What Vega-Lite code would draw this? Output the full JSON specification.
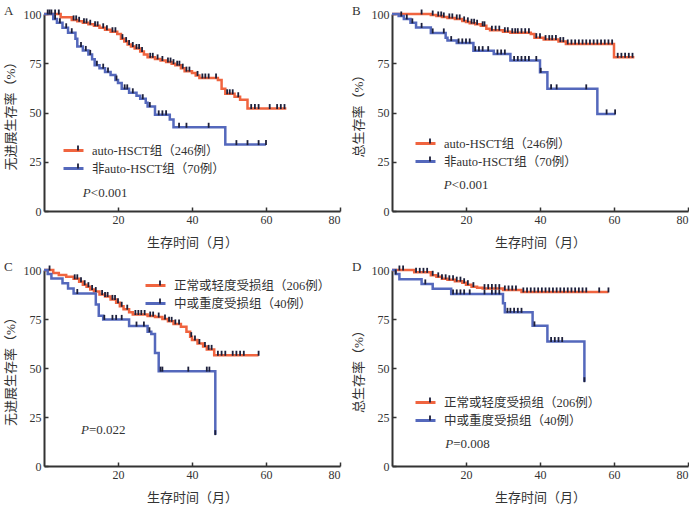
{
  "$schema": "https://vega.github.io/schema/vega-lite/v6.json",
  "padding": {"left": 4, "top": 4, "right": 0, "bottom": 0},
  "background": "white",
  "config": {
    "view": {"stroke": null},
    "font": "Liberation Serif, Noto Sans CJK SC",
    "axis": {
      "grid": false,
      "domainColor": "#333333",
      "domainWidth": 2,
      "tickColor": "#333333",
      "tickWidth": 1.5,
      "tickSize": -4,
      "labelFont": "Liberation Serif",
      "labelFontSize": 12,
      "labelColor": "#333333",
      "labelPadding": 7,
      "titleFont": "Liberation Serif, Noto Sans CJK SC",
      "titleFontSize": 13,
      "titleFontWeight": "normal",
      "titleColor": "#333333"
    },
    "axisX": {"titlePadding": 11},
    "axisY": {"titlePadding": 6},
    "legend": {
      "orient": "none",
      "title": null,
      "labelFont": "Liberation Serif, Noto Sans CJK SC",
      "labelFontSize": 12.5,
      "labelColor": "#333333",
      "labelOffset": 7,
      "rowPadding": -3,
      "symbolSize": 400,
      "symbolFillColor": "transparent",
      "padding": 0
    },
    "title": {"font": "Liberation Serif", "fontSize": 13, "fontWeight": "normal", "color": "#333333", "anchor": "start", "frame": "bounds", "offset": -12}
  },
  "datasets": {
    "groups": [
      {"k": "A1", "label": "auto-HSCT组（246例）"},
      {"k": "A2", "label": "非auto-HSCT组（70例）"},
      {"k": "B1", "label": "auto-HSCT组（246例）"},
      {"k": "B2", "label": "非auto-HSCT组（70例）"},
      {"k": "C1", "label": "正常或轻度受损组（206例）"},
      {"k": "C2", "label": "中或重度受损组（40例）"},
      {"k": "D1", "label": "正常或轻度受损组（206例）"},
      {"k": "D2", "label": "中或重度受损组（40例）"}
    ],
    "curves": [
      {"k":"A1","t":0,"s":100},{"k":"A1","t":4.5,"s":98.3},{"k":"A1","t":7.5,"s":97},{"k":"A1","t":9,"s":96.3},{"k":"A1","t":10.5,"s":95.5},{"k":"A1","t":12,"s":94.8},{"k":"A1","t":13.5,"s":94},{"k":"A1","t":15,"s":93},{"k":"A1","t":16.5,"s":92},{"k":"A1","t":18,"s":91},{"k":"A1","t":19.8,"s":89.9},{"k":"A1","t":20.8,"s":87.5},{"k":"A1","t":21.7,"s":86},{"k":"A1","t":22.6,"s":84.5},{"k":"A1","t":23.5,"s":83.5},{"k":"A1","t":24.5,"s":82.5},{"k":"A1","t":26,"s":81},{"k":"A1","t":27,"s":79.5},{"k":"A1","t":28,"s":78},{"k":"A1","t":30,"s":77.2},{"k":"A1","t":31.5,"s":76.4},{"k":"A1","t":33,"s":75.6},{"k":"A1","t":34.5,"s":74.8},{"k":"A1","t":35.5,"s":74},{"k":"A1","t":37,"s":72.5},{"k":"A1","t":38,"s":71},{"k":"A1","t":40,"s":70},{"k":"A1","t":41,"s":68.8},{"k":"A1","t":42,"s":67.5},{"k":"A1","t":47,"s":66.5},{"k":"A1","t":48,"s":62},{"k":"A1","t":49,"s":59.5},{"k":"A1","t":51.5,"s":58},{"k":"A1","t":53,"s":56.5},{"k":"A1","t":55,"s":52},{"k":"A1","t":65.5,"s":52},
      {"k":"A2","t":0,"s":100},{"k":"A2","t":2.5,"s":97.5},{"k":"A2","t":3.5,"s":95.5},{"k":"A2","t":5,"s":93},{"k":"A2","t":6.5,"s":90.5},{"k":"A2","t":8.5,"s":87.5},{"k":"A2","t":9,"s":83.5},{"k":"A2","t":10.5,"s":81.5},{"k":"A2","t":12,"s":79.5},{"k":"A2","t":13,"s":77},{"k":"A2","t":13.7,"s":74},{"k":"A2","t":15,"s":72.5},{"k":"A2","t":16.5,"s":70.5},{"k":"A2","t":18,"s":69},{"k":"A2","t":19.3,"s":66.5},{"k":"A2","t":20,"s":65},{"k":"A2","t":21,"s":62},{"k":"A2","t":23,"s":60},{"k":"A2","t":25,"s":58.5},{"k":"A2","t":26,"s":57},{"k":"A2","t":27.5,"s":55},{"k":"A2","t":28,"s":53},{"k":"A2","t":30,"s":48.8},{"k":"A2","t":34,"s":46.5},{"k":"A2","t":35,"s":42.5},{"k":"A2","t":49,"s":33.7},{"k":"A2","t":60,"s":33.7},
      {"k":"B1","t":0,"s":100},{"k":"B1","t":10.5,"s":99.5},{"k":"B1","t":12,"s":99},{"k":"B1","t":13.5,"s":98.5},{"k":"B1","t":15,"s":98},{"k":"B1","t":17,"s":97.5},{"k":"B1","t":19,"s":96.5},{"k":"B1","t":20,"s":96},{"k":"B1","t":21,"s":95.3},{"k":"B1","t":22.5,"s":94.8},{"k":"B1","t":24,"s":94},{"k":"B1","t":25.5,"s":92.5},{"k":"B1","t":26.5,"s":91.8},{"k":"B1","t":30,"s":91},{"k":"B1","t":32,"s":90.5},{"k":"B1","t":37.5,"s":89.8},{"k":"B1","t":38.5,"s":88},{"k":"B1","t":41,"s":87},{"k":"B1","t":45,"s":86},{"k":"B1","t":47,"s":84.8},{"k":"B1","t":60,"s":78},{"k":"B1","t":65.5,"s":78},
      {"k":"B2","t":0,"s":100},{"k":"B2","t":1.8,"s":99},{"k":"B2","t":3.2,"s":97.5},{"k":"B2","t":5,"s":95.5},{"k":"B2","t":6.5,"s":93.2},{"k":"B2","t":10.5,"s":90.4},{"k":"B2","t":14.5,"s":88},{"k":"B2","t":15,"s":86.5},{"k":"B2","t":17.5,"s":85.3},{"k":"B2","t":22,"s":81.4},{"k":"B2","t":27.5,"s":79.7},{"k":"B2","t":32,"s":76.4},{"k":"B2","t":40,"s":70.4},{"k":"B2","t":42,"s":62},{"k":"B2","t":55.5,"s":49.3},{"k":"B2","t":60.4,"s":49.3},
      {"k":"C1","t":0,"s":100},{"k":"C1","t":2.5,"s":98.5},{"k":"C1","t":4,"s":97.5},{"k":"C1","t":6,"s":96.5},{"k":"C1","t":8,"s":95.5},{"k":"C1","t":9.5,"s":94},{"k":"C1","t":10.5,"s":92.5},{"k":"C1","t":11.5,"s":91.5},{"k":"C1","t":12.5,"s":90},{"k":"C1","t":13.5,"s":89},{"k":"C1","t":15,"s":87.5},{"k":"C1","t":16.5,"s":86.5},{"k":"C1","t":18,"s":85},{"k":"C1","t":19.5,"s":83.3},{"k":"C1","t":20.5,"s":81.5},{"k":"C1","t":21.5,"s":80},{"k":"C1","t":23,"s":78.5},{"k":"C1","t":24,"s":77.3},{"k":"C1","t":28,"s":76.5},{"k":"C1","t":30,"s":76},{"k":"C1","t":32,"s":75},{"k":"C1","t":33.5,"s":73.8},{"k":"C1","t":35,"s":72.5},{"k":"C1","t":37,"s":71},{"k":"C1","t":38.5,"s":68.5},{"k":"C1","t":39.5,"s":66},{"k":"C1","t":40,"s":64.3},{"k":"C1","t":41.5,"s":62.5},{"k":"C1","t":43,"s":61},{"k":"C1","t":44,"s":59.5},{"k":"C1","t":46,"s":56.5},{"k":"C1","t":58,"s":56.5},
      {"k":"C2","t":0,"s":100},{"k":"C2","t":1,"s":98},{"k":"C2","t":2,"s":95.7},{"k":"C2","t":5,"s":93.2},{"k":"C2","t":6.5,"s":90.6},{"k":"C2","t":8,"s":88},{"k":"C2","t":14,"s":82.4},{"k":"C2","t":14.8,"s":76.7},{"k":"C2","t":16,"s":74.8},{"k":"C2","t":23,"s":71.4},{"k":"C2","t":28,"s":68.5},{"k":"C2","t":29,"s":67.3},{"k":"C2","t":30,"s":57.7},{"k":"C2","t":31,"s":48.4},{"k":"C2","t":46.3,"s":16},
      {"k":"D1","t":0,"s":100},{"k":"D1","t":6,"s":98.8},{"k":"D1","t":10.5,"s":97.3},{"k":"D1","t":12,"s":96.5},{"k":"D1","t":13.5,"s":95.5},{"k":"D1","t":15,"s":95},{"k":"D1","t":17,"s":94.3},{"k":"D1","t":19,"s":93.5},{"k":"D1","t":20,"s":92.5},{"k":"D1","t":21.5,"s":91.5},{"k":"D1","t":23,"s":91},{"k":"D1","t":24.5,"s":90.5},{"k":"D1","t":30,"s":89.8},{"k":"D1","t":35,"s":88.8},{"k":"D1","t":58.5,"s":88.8},
      {"k":"D2","t":0,"s":100},{"k":"D2","t":1,"s":98},{"k":"D2","t":2,"s":95.3},{"k":"D2","t":8,"s":92.9},{"k":"D2","t":11,"s":90.4},{"k":"D2","t":16,"s":87.8},{"k":"D2","t":30,"s":83},{"k":"D2","t":30.5,"s":78.4},{"k":"D2","t":38,"s":71.5},{"k":"D2","t":42,"s":63.5},{"k":"D2","t":52,"s":43}
    ],
    "cens": [
      {"k":"A1","t":1,"s":100},{"k":"A1","t":2,"s":100},{"k":"A1","t":3,"s":100},{"k":"A1","t":4,"s":100},{"k":"A1","t":8,"s":97},{"k":"A1","t":8.7,"s":97},{"k":"A1","t":9.5,"s":96.3},{"k":"A1","t":10.8,"s":95.5},{"k":"A1","t":11.5,"s":95.5},{"k":"A1","t":12.5,"s":94.8},{"k":"A1","t":13.8,"s":94},{"k":"A1","t":14.5,"s":94},{"k":"A1","t":16,"s":93},{"k":"A1","t":17,"s":92},{"k":"A1","t":18.5,"s":91},{"k":"A1","t":19.3,"s":91},{"k":"A1","t":21.2,"s":87.5},{"k":"A1","t":22.2,"s":86},{"k":"A1","t":23,"s":84.5},{"k":"A1","t":24,"s":83.5},{"k":"A1","t":25,"s":82.5},{"k":"A1","t":25.7,"s":82.5},{"k":"A1","t":26.5,"s":81},{"k":"A1","t":28.7,"s":78},{"k":"A1","t":29.4,"s":78},{"k":"A1","t":30.7,"s":77.2},{"k":"A1","t":32,"s":76.4},{"k":"A1","t":33.5,"s":75.6},{"k":"A1","t":34.2,"s":75.6},{"k":"A1","t":35,"s":74.8},{"k":"A1","t":36,"s":74},{"k":"A1","t":36.6,"s":74},{"k":"A1","t":37.5,"s":72.5},{"k":"A1","t":38.5,"s":71},{"k":"A1","t":39.3,"s":71},{"k":"A1","t":41.5,"s":68.8},{"k":"A1","t":42.8,"s":67.5},{"k":"A1","t":43.6,"s":67.5},{"k":"A1","t":44.5,"s":67.5},{"k":"A1","t":46.5,"s":67.5},{"k":"A1","t":49.5,"s":59.5},{"k":"A1","t":50.2,"s":59.5},{"k":"A1","t":51,"s":59.5},{"k":"A1","t":52.5,"s":58},{"k":"A1","t":56,"s":52},{"k":"A1","t":57,"s":52},{"k":"A1","t":58,"s":52},{"k":"A1","t":61,"s":52},{"k":"A1","t":63,"s":52},{"k":"A1","t":64,"s":52},{"k":"A1","t":65,"s":52},
      {"k":"A2","t":1.5,"s":100},{"k":"A2","t":3,"s":97.5},{"k":"A2","t":4.3,"s":95.5},{"k":"A2","t":6,"s":93},{"k":"A2","t":7.5,"s":90.5},{"k":"A2","t":10,"s":83.5},{"k":"A2","t":11.3,"s":81.5},{"k":"A2","t":12.5,"s":79.5},{"k":"A2","t":14.3,"s":74},{"k":"A2","t":16,"s":72.5},{"k":"A2","t":17.3,"s":70.5},{"k":"A2","t":19.6,"s":66.5},{"k":"A2","t":21.8,"s":62},{"k":"A2","t":22.5,"s":62},{"k":"A2","t":24,"s":60},{"k":"A2","t":26.7,"s":57},{"k":"A2","t":28.6,"s":53},{"k":"A2","t":31,"s":48.8},{"k":"A2","t":32,"s":48.8},{"k":"A2","t":33,"s":48.8},{"k":"A2","t":36.5,"s":42.5},{"k":"A2","t":38.5,"s":42.5},{"k":"A2","t":44.5,"s":42.5},{"k":"A2","t":52,"s":33.7},{"k":"A2","t":55,"s":33.7},{"k":"A2","t":58,"s":33.7},{"k":"A2","t":60,"s":33.7},
      {"k":"B1","t":8,"s":100},{"k":"B1","t":11,"s":99.5},{"k":"B1","t":12.5,"s":99},{"k":"B1","t":13.3,"s":99},{"k":"B1","t":14,"s":98.5},{"k":"B1","t":15.5,"s":98},{"k":"B1","t":16.3,"s":98},{"k":"B1","t":17.5,"s":97.5},{"k":"B1","t":18.3,"s":97.5},{"k":"B1","t":19.5,"s":96.5},{"k":"B1","t":20.5,"s":96},{"k":"B1","t":21.5,"s":95.3},{"k":"B1","t":22.2,"s":95.3},{"k":"B1","t":23,"s":94.8},{"k":"B1","t":24.5,"s":94},{"k":"B1","t":25,"s":94},{"k":"B1","t":27,"s":91.8},{"k":"B1","t":28,"s":91.8},{"k":"B1","t":29,"s":91.8},{"k":"B1","t":30.5,"s":91},{"k":"B1","t":31.3,"s":91},{"k":"B1","t":32.5,"s":90.5},{"k":"B1","t":33.3,"s":90.5},{"k":"B1","t":34,"s":90.5},{"k":"B1","t":35,"s":90.5},{"k":"B1","t":36,"s":90.5},{"k":"B1","t":37,"s":90.5},{"k":"B1","t":39,"s":88},{"k":"B1","t":40,"s":88},{"k":"B1","t":41.5,"s":87},{"k":"B1","t":42.5,"s":87},{"k":"B1","t":43.3,"s":87},{"k":"B1","t":44.3,"s":87},{"k":"B1","t":45.5,"s":86},{"k":"B1","t":46.3,"s":86},{"k":"B1","t":47.5,"s":84.8},{"k":"B1","t":48.5,"s":84.8},{"k":"B1","t":49.5,"s":84.8},{"k":"B1","t":50.5,"s":84.8},{"k":"B1","t":51.5,"s":84.8},{"k":"B1","t":52.5,"s":84.8},{"k":"B1","t":53.5,"s":84.8},{"k":"B1","t":54.5,"s":84.8},{"k":"B1","t":55.5,"s":84.8},{"k":"B1","t":56.5,"s":84.8},{"k":"B1","t":57.5,"s":84.8},{"k":"B1","t":58.5,"s":84.8},{"k":"B1","t":59.5,"s":84.8},{"k":"B1","t":61,"s":78},{"k":"B1","t":62,"s":78},{"k":"B1","t":63,"s":78},{"k":"B1","t":64,"s":78},{"k":"B1","t":65,"s":78},
      {"k":"B2","t":2.5,"s":99},{"k":"B2","t":4,"s":97.5},{"k":"B2","t":5.5,"s":95.5},{"k":"B2","t":8,"s":93.2},{"k":"B2","t":11,"s":90.4},{"k":"B2","t":14,"s":90.4},{"k":"B2","t":16,"s":86.5},{"k":"B2","t":18,"s":85.3},{"k":"B2","t":19,"s":85.3},{"k":"B2","t":20,"s":85.3},{"k":"B2","t":21,"s":85.3},{"k":"B2","t":22.5,"s":81.4},{"k":"B2","t":23.5,"s":81.4},{"k":"B2","t":24.5,"s":81.4},{"k":"B2","t":26,"s":81.4},{"k":"B2","t":28.5,"s":79.7},{"k":"B2","t":29.5,"s":79.7},{"k":"B2","t":30.5,"s":79.7},{"k":"B2","t":33,"s":76.4},{"k":"B2","t":34,"s":76.4},{"k":"B2","t":35,"s":76.4},{"k":"B2","t":36,"s":76.4},{"k":"B2","t":37,"s":76.4},{"k":"B2","t":39,"s":76.4},{"k":"B2","t":40.2,"s":70.4},{"k":"B2","t":43,"s":62},{"k":"B2","t":44.5,"s":62},{"k":"B2","t":52.5,"s":62},{"k":"B2","t":58,"s":49.3},{"k":"B2","t":60.3,"s":49.3},
      {"k":"C1","t":1.5,"s":100},{"k":"C1","t":8.3,"s":95.5},{"k":"C1","t":9,"s":95.5},{"k":"C1","t":10,"s":94},{"k":"C1","t":11,"s":92.5},{"k":"C1","t":12,"s":91.5},{"k":"C1","t":13,"s":90},{"k":"C1","t":14,"s":89},{"k":"C1","t":15.7,"s":87.5},{"k":"C1","t":16.5,"s":86.5},{"k":"C1","t":17.2,"s":86.5},{"k":"C1","t":18.5,"s":85},{"k":"C1","t":19.2,"s":85},{"k":"C1","t":20,"s":83.3},{"k":"C1","t":21,"s":81.5},{"k":"C1","t":22.5,"s":80},{"k":"C1","t":24.7,"s":77.3},{"k":"C1","t":25.5,"s":77.3},{"k":"C1","t":26.3,"s":77.3},{"k":"C1","t":27.2,"s":77.3},{"k":"C1","t":28.7,"s":76.5},{"k":"C1","t":29.5,"s":76.5},{"k":"C1","t":31,"s":76},{"k":"C1","t":32.7,"s":75},{"k":"C1","t":33.8,"s":73.8},{"k":"C1","t":34.5,"s":73.8},{"k":"C1","t":35.5,"s":72.5},{"k":"C1","t":36.5,"s":72.5},{"k":"C1","t":39.8,"s":66},{"k":"C1","t":40.8,"s":64.3},{"k":"C1","t":42,"s":62.5},{"k":"C1","t":43.5,"s":61},{"k":"C1","t":44.5,"s":59.5},{"k":"C1","t":45.3,"s":59.5},{"k":"C1","t":47,"s":56.5},{"k":"C1","t":48,"s":56.5},{"k":"C1","t":49,"s":56.5},{"k":"C1","t":51,"s":56.5},{"k":"C1","t":52,"s":56.5},{"k":"C1","t":53,"s":56.5},{"k":"C1","t":54,"s":56.5},{"k":"C1","t":58,"s":56.5},
      {"k":"C2","t":9,"s":88},{"k":"C2","t":16.3,"s":74.8},{"k":"C2","t":18.5,"s":74.8},{"k":"C2","t":19.5,"s":74.8},{"k":"C2","t":21,"s":74.8},{"k":"C2","t":25,"s":71.4},{"k":"C2","t":27,"s":71.4},{"k":"C2","t":28.5,"s":68.5},{"k":"C2","t":31.5,"s":48.4},{"k":"C2","t":32,"s":48.4},{"k":"C2","t":39,"s":48.4},{"k":"C2","t":44,"s":48.4},{"k":"C2","t":44.7,"s":48.4},{"k":"C2","t":46.3,"s":16},
      {"k":"D1","t":2,"s":100},{"k":"D1","t":3,"s":100},{"k":"D1","t":6.5,"s":98.8},{"k":"D1","t":7.5,"s":98.8},{"k":"D1","t":8.5,"s":98.8},{"k":"D1","t":9.5,"s":98.8},{"k":"D1","t":11,"s":97.3},{"k":"D1","t":12.5,"s":96.5},{"k":"D1","t":13.5,"s":95.5},{"k":"D1","t":14.5,"s":95.5},{"k":"D1","t":15.5,"s":95},{"k":"D1","t":16.5,"s":95},{"k":"D1","t":17.5,"s":94.3},{"k":"D1","t":18.5,"s":94.3},{"k":"D1","t":19.5,"s":93.5},{"k":"D1","t":20.5,"s":92.5},{"k":"D1","t":22,"s":91.5},{"k":"D1","t":25,"s":90.5},{"k":"D1","t":26,"s":90.5},{"k":"D1","t":27,"s":90.5},{"k":"D1","t":28,"s":90.5},{"k":"D1","t":29,"s":90.5},{"k":"D1","t":30.5,"s":89.8},{"k":"D1","t":31.5,"s":89.8},{"k":"D1","t":32.5,"s":89.8},{"k":"D1","t":33.5,"s":89.8},{"k":"D1","t":35.5,"s":88.8},{"k":"D1","t":36.5,"s":88.8},{"k":"D1","t":37.5,"s":88.8},{"k":"D1","t":38.5,"s":88.8},{"k":"D1","t":39.5,"s":88.8},{"k":"D1","t":40.5,"s":88.8},{"k":"D1","t":41.5,"s":88.8},{"k":"D1","t":42.5,"s":88.8},{"k":"D1","t":43.5,"s":88.8},{"k":"D1","t":44.5,"s":88.8},{"k":"D1","t":45.5,"s":88.8},{"k":"D1","t":46.5,"s":88.8},{"k":"D1","t":47.5,"s":88.8},{"k":"D1","t":48.5,"s":88.8},{"k":"D1","t":49.5,"s":88.8},{"k":"D1","t":50.5,"s":88.8},{"k":"D1","t":51.5,"s":88.8},{"k":"D1","t":52.5,"s":88.8},{"k":"D1","t":56,"s":88.8},{"k":"D1","t":58.5,"s":88.8},
      {"k":"D2","t":1,"s":98},{"k":"D2","t":9,"s":92.9},{"k":"D2","t":16.5,"s":87.8},{"k":"D2","t":17.5,"s":87.8},{"k":"D2","t":18.5,"s":87.8},{"k":"D2","t":19.5,"s":87.8},{"k":"D2","t":21,"s":87.8},{"k":"D2","t":25,"s":87.8},{"k":"D2","t":27,"s":87.8},{"k":"D2","t":28,"s":87.8},{"k":"D2","t":29,"s":87.8},{"k":"D2","t":31.2,"s":78.4},{"k":"D2","t":32,"s":78.4},{"k":"D2","t":33,"s":78.4},{"k":"D2","t":34,"s":78.4},{"k":"D2","t":35,"s":78.4},{"k":"D2","t":38.5,"s":71.5},{"k":"D2","t":43,"s":63.5},{"k":"D2","t":44,"s":63.5},{"k":"D2","t":45,"s":63.5},{"k":"D2","t":46,"s":63.5},{"k":"D2","t":52,"s":43}
    ]
  },
  "resolve": {"scale": {"color": "independent", "shape": "independent"}, "legend": {"color": "independent", "shape": "independent"}},
  "spacing": 11,
  "vconcat": [
    {
      "resolve": {"scale": {"color": "independent", "shape": "independent"}, "legend": {"color": "independent", "shape": "independent"}},
      "spacing": 11,
      "hconcat": [
        {
          "width": 296, "height": 197,
          "title": {"text": "A"},
          "layer": [
            {
              "data": {"name": "curves"},
              "transform": [{"filter": {"field": "k", "oneOf": ["A1", "A2"]}}, {"lookup": "k", "from": {"data": {"name": "groups"}, "key": "k", "fields": ["label"]}}],
              "mark": {"type": "line", "interpolate": "step-after", "strokeWidth": 2.5},
              "encoding": {
                "x": {"field": "t", "type": "quantitative", "scale": {"domain": [0, 80]}, "axis": {"values": [20, 40, 60, 80], "title": "生存时间（月）"}},
                "y": {"field": "s", "type": "quantitative", "scale": {"domain": [0, 100]}, "axis": {"values": [0, 25, 50, 75, 100], "title": "无进展生存率（%）"}},
                "color": {"field": "label", "type": "nominal", "scale": {"domain": ["auto-HSCT组（246例）", "非auto-HSCT组（70例）"], "range": ["#F0643F", "#5468BC"]}, "legend": {"symbolType": "M-1,0L1,0", "symbolStrokeWidth": 3, "legendX": 18, "legendY": 125}}
              }
            },
            {
              "data": {"name": "cens"},
              "transform": [{"filter": {"field": "k", "oneOf": ["A1", "A2"]}}],
              "mark": {"type": "point", "filled": false, "stroke": "#1c1f3a", "strokeWidth": 1.8, "size": 400, "opacity": 1},
              "encoding": {
                "x": {"field": "t", "type": "quantitative"},
                "y": {"field": "s", "type": "quantitative"},
                "shape": {"field": "k", "type": "nominal", "scale": {"domain": ["A1", "A2"], "range": ["M0,-0.45L0,0.05", "M0,-0.45L0,0.05"]}, "legend": {"labelExpr": "''", "symbolStrokeColor": "#1c1f3a", "symbolStrokeWidth": 1.8, "legendX": 23, "legendY": 125}}
              }
            },
            {"data": {"values": [{}]}, "mark": {"type": "text", "text": "P", "fontStyle": "italic", "fontSize": 13, "align": "left", "color": "#333333", "font": "Liberation Serif"}, "encoding": {"x": {"datum": 10.5}, "y": {"datum": 9}}},
            {"data": {"values": [{}]}, "mark": {"type": "text", "text": "<0.001", "fontSize": 13, "align": "left", "dx": 8, "color": "#333333", "font": "Liberation Serif"}, "encoding": {"x": {"datum": 10.5}, "y": {"datum": 9}}}
          ]
        },
        {
          "width": 296, "height": 197,
          "title": {"text": "B"},
          "layer": [
            {
              "data": {"name": "curves"},
              "transform": [{"filter": {"field": "k", "oneOf": ["B1", "B2"]}}, {"lookup": "k", "from": {"data": {"name": "groups"}, "key": "k", "fields": ["label"]}}],
              "mark": {"type": "line", "interpolate": "step-after", "strokeWidth": 2.5},
              "encoding": {
                "x": {"field": "t", "type": "quantitative", "scale": {"domain": [0, 80]}, "axis": {"values": [20, 40, 60, 80], "title": "生存时间（月）"}},
                "y": {"field": "s", "type": "quantitative", "scale": {"domain": [0, 100]}, "axis": {"values": [0, 25, 50, 75, 100], "title": "总生存率（%）"}},
                "color": {"field": "label", "type": "nominal", "scale": {"domain": ["auto-HSCT组（246例）", "非auto-HSCT组（70例）"], "range": ["#F0643F", "#5468BC"]}, "legend": {"symbolType": "M-1,0L1,0", "symbolStrokeWidth": 3, "legendX": 22, "legendY": 118}}
              }
            },
            {
              "data": {"name": "cens"},
              "transform": [{"filter": {"field": "k", "oneOf": ["B1", "B2"]}}],
              "mark": {"type": "point", "filled": false, "stroke": "#1c1f3a", "strokeWidth": 1.8, "size": 400, "opacity": 1},
              "encoding": {
                "x": {"field": "t", "type": "quantitative"},
                "y": {"field": "s", "type": "quantitative"},
                "shape": {"field": "k", "type": "nominal", "scale": {"domain": ["B1", "B2"], "range": ["M0,-0.45L0,0.05", "M0,-0.45L0,0.05"]}, "legend": {"labelExpr": "''", "symbolStrokeColor": "#1c1f3a", "symbolStrokeWidth": 1.8, "legendX": 27, "legendY": 118}}
              }
            },
            {"data": {"values": [{}]}, "mark": {"type": "text", "text": "P", "fontStyle": "italic", "fontSize": 13, "align": "left", "color": "#333333", "font": "Liberation Serif"}, "encoding": {"x": {"datum": 14}, "y": {"datum": 13.3}}},
            {"data": {"values": [{}]}, "mark": {"type": "text", "text": "<0.001", "fontSize": 13, "align": "left", "dx": 8, "color": "#333333", "font": "Liberation Serif"}, "encoding": {"x": {"datum": 14}, "y": {"datum": 13.3}}}
          ]
        }
      ]
    },
    {
      "resolve": {"scale": {"color": "independent", "shape": "independent"}, "legend": {"color": "independent", "shape": "independent"}},
      "spacing": 11,
      "hconcat": [
        {
          "width": 296, "height": 196,
          "title": {"text": "C"},
          "layer": [
            {
              "data": {"name": "curves"},
              "transform": [{"filter": {"field": "k", "oneOf": ["C1", "C2"]}}, {"lookup": "k", "from": {"data": {"name": "groups"}, "key": "k", "fields": ["label"]}}],
              "mark": {"type": "line", "interpolate": "step-after", "strokeWidth": 2.5},
              "encoding": {
                "x": {"field": "t", "type": "quantitative", "scale": {"domain": [0, 80]}, "axis": {"values": [20, 40, 60, 80], "title": "生存时间（月）"}},
                "y": {"field": "s", "type": "quantitative", "scale": {"domain": [0, 100]}, "axis": {"values": [0, 25, 50, 75, 100], "title": "无进展生存率（%）"}},
                "color": {"field": "label", "type": "nominal", "scale": {"domain": ["正常或轻度受损组（206例）", "中或重度受损组（40例）"], "range": ["#F0643F", "#5468BC"]}, "legend": {"symbolType": "M-1,0L1,0", "symbolStrokeWidth": 3, "legendX": 100, "legendY": 4}}
              }
            },
            {
              "data": {"name": "cens"},
              "transform": [{"filter": {"field": "k", "oneOf": ["C1", "C2"]}}],
              "mark": {"type": "point", "filled": false, "stroke": "#1c1f3a", "strokeWidth": 1.8, "size": 400, "opacity": 1},
              "encoding": {
                "x": {"field": "t", "type": "quantitative"},
                "y": {"field": "s", "type": "quantitative"},
                "shape": {"field": "k", "type": "nominal", "scale": {"domain": ["C1", "C2"], "range": ["M0,-0.45L0,0.05", "M0,-0.45L0,0.05"]}, "legend": {"labelExpr": "''", "symbolStrokeColor": "#1c1f3a", "symbolStrokeWidth": 1.8, "legendX": 105, "legendY": 4}}
              }
            },
            {"data": {"values": [{}]}, "mark": {"type": "text", "text": "P", "fontStyle": "italic", "fontSize": 13, "align": "left", "color": "#333333", "font": "Liberation Serif"}, "encoding": {"x": {"datum": 10}, "y": {"datum": 18.4}}},
            {"data": {"values": [{}]}, "mark": {"type": "text", "text": "=0.022", "fontSize": 13, "align": "left", "dx": 8, "color": "#333333", "font": "Liberation Serif"}, "encoding": {"x": {"datum": 10}, "y": {"datum": 18.4}}}
          ]
        },
        {
          "width": 296, "height": 196,
          "title": {"text": "D"},
          "layer": [
            {
              "data": {"name": "curves"},
              "transform": [{"filter": {"field": "k", "oneOf": ["D1", "D2"]}}, {"lookup": "k", "from": {"data": {"name": "groups"}, "key": "k", "fields": ["label"]}}],
              "mark": {"type": "line", "interpolate": "step-after", "strokeWidth": 2.5},
              "encoding": {
                "x": {"field": "t", "type": "quantitative", "scale": {"domain": [0, 80]}, "axis": {"values": [20, 40, 60, 80], "title": "生存时间（月）"}},
                "y": {"field": "s", "type": "quantitative", "scale": {"domain": [0, 100]}, "axis": {"values": [0, 25, 50, 75, 100], "title": "总生存率（%）"}},
                "color": {"field": "label", "type": "nominal", "scale": {"domain": ["正常或轻度受损组（206例）", "中或重度受损组（40例）"], "range": ["#F0643F", "#5468BC"]}, "legend": {"symbolType": "M-1,0L1,0", "symbolStrokeWidth": 3, "legendX": 22, "legendY": 121}}
              }
            },
            {
              "data": {"name": "cens"},
              "transform": [{"filter": {"field": "k", "oneOf": ["D1", "D2"]}}],
              "mark": {"type": "point", "filled": false, "stroke": "#1c1f3a", "strokeWidth": 1.8, "size": 400, "opacity": 1},
              "encoding": {
                "x": {"field": "t", "type": "quantitative"},
                "y": {"field": "s", "type": "quantitative"},
                "shape": {"field": "k", "type": "nominal", "scale": {"domain": ["D1", "D2"], "range": ["M0,-0.45L0,0.05", "M0,-0.45L0,0.05"]}, "legend": {"labelExpr": "''", "symbolStrokeColor": "#1c1f3a", "symbolStrokeWidth": 1.8, "legendX": 27, "legendY": 121}}
              }
            },
            {"data": {"values": [{}]}, "mark": {"type": "text", "text": "P", "fontStyle": "italic", "fontSize": 13, "align": "left", "color": "#333333", "font": "Liberation Serif"}, "encoding": {"x": {"datum": 14.4}, "y": {"datum": 11}}},
            {"data": {"values": [{}]}, "mark": {"type": "text", "text": "=0.008", "fontSize": 13, "align": "left", "dx": 8, "color": "#333333", "font": "Liberation Serif"}, "encoding": {"x": {"datum": 14.4}, "y": {"datum": 11}}}
          ]
        }
      ]
    }
  ]
}
